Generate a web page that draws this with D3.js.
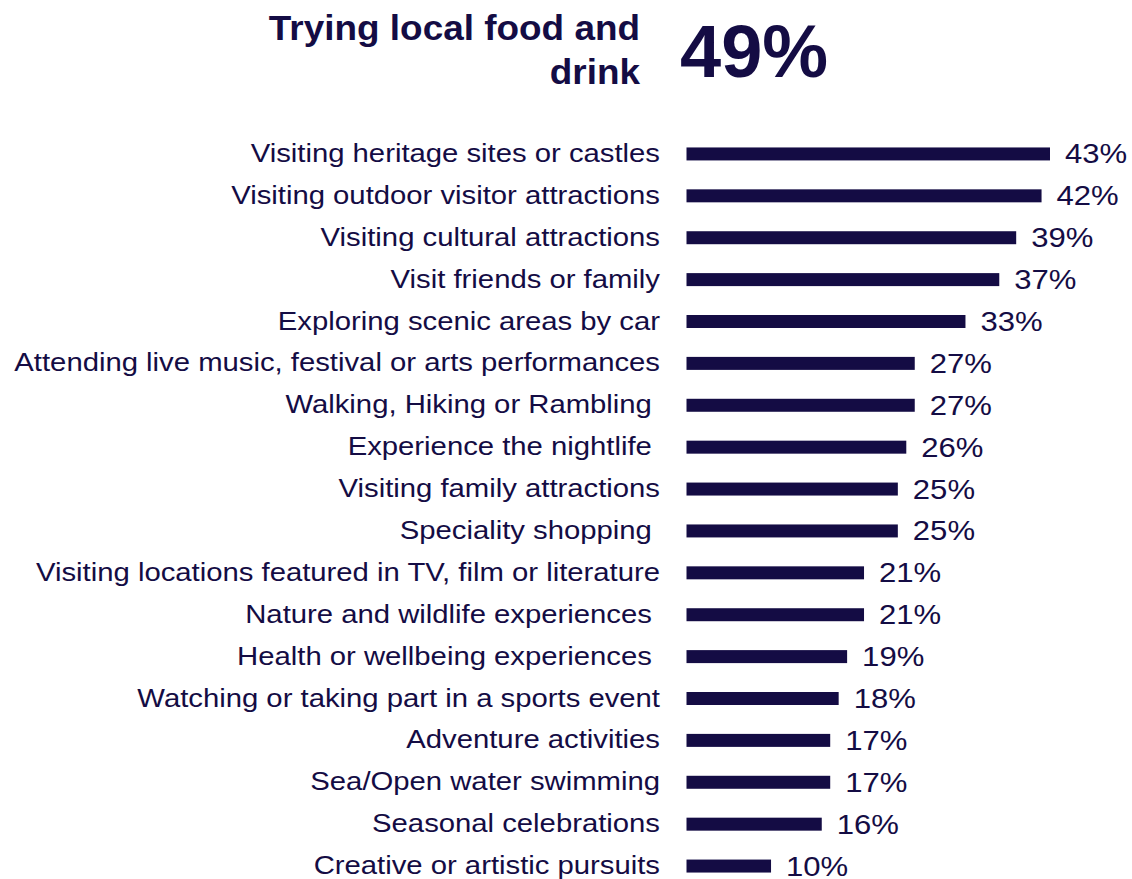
<!DOCTYPE html>
<html>
<head>
<meta charset="utf-8">
<script src="https://cdn.jsdelivr.net/npm/d3@7"></script>
<style>
  html, body { margin: 0; padding: 0; background: #ffffff; }
  svg { display: block; font-family: "Liberation Sans", Arial, sans-serif; }
  text { white-space: pre; }
</style>
</head>
<body>
<svg id="chart" width="1132" height="879"></svg>
<script>
// Headline activity
const headlineLabel = ["Trying local food and", "drink"];
const headlineValue = 49;

// Other activities, in display order
const categories = [
  "Visiting heritage sites or castles",
  "Visiting outdoor visitor attractions",
  "Visiting cultural attractions",
  "Visit friends or family",
  "Exploring scenic areas by car",
  "Attending live music, festival or arts performances",
  "Walking, Hiking or Rambling ",
  "Experience the nightlife ",
  "Visiting family attractions",
  "Speciality shopping ",
  "Visiting locations featured in TV, film or literature",
  "Nature and wildlife experiences ",
  "Health or wellbeing experiences ",
  "Watching or taking part in a sports event",
  "Adventure activities",
  "Sea/Open water swimming",
  "Seasonal celebrations",
  "Creative or artistic pursuits"
];
const values = [43, 42, 39, 37, 33, 27, 27, 26, 25, 25, 21, 21, 19, 18, 17, 17, 16, 10];

const ink = "#140c44";
const svg = d3.select("#chart");

const x = d3.scaleLinear().domain([0, 43]).range([686.5, 1050]);
const y = d3.scaleBand().domain(categories).range([133, 887]).paddingInner(0.69).paddingOuter(0.345);

// Headline title and value (type is set slightly wide)
const title = svg.append("g").attr("transform", "translate(640,0) scale(1.07,1)")
  .append("text")
  .attr("text-anchor", "end")
  .attr("font-weight", "bold")
  .attr("font-size", 34.5)
  .attr("fill", ink);
title.selectAll("tspan").data(headlineLabel).join("tspan")
  .attr("x", 0)
  .attr("y", (d, i) => 40 + i * 44)
  .text(d => d);

svg.append("text")
  .attr("x", 680)
  .attr("y", 77)
  .attr("font-weight", "bold")
  .attr("font-size", 74)
  .attr("fill", ink)
  .text(headlineValue + "%");

// Bars
const rows = svg.append("g").selectAll("g")
  .data(categories.map((c, i) => ({ c, v: values[i] })))
  .join("g");

rows.append("rect")
  .attr("x", x(0))
  .attr("y", d => y(d.c))
  .attr("width", d => x(d.v) - x(0))
  .attr("height", y.bandwidth())
  .attr("fill", ink);

rows.append("text")
  .attr("transform", d => `translate(660,${y(d.c) + y.bandwidth() / 2 + 8}) scale(1.105,1)`)
  .attr("text-anchor", "end")
  .attr("font-size", 26.5)
  .attr("fill", ink)
  .text(d => d.c);

rows.append("text")
  .attr("transform", d => `translate(${x(d.v) + 15},${y(d.c) + y.bandwidth() / 2 + 9.5}) scale(1.11,1)`)
  .attr("font-size", 28)
  .attr("fill", ink)
  .text(d => d.v + "%");
</script>
</body>
</html>
